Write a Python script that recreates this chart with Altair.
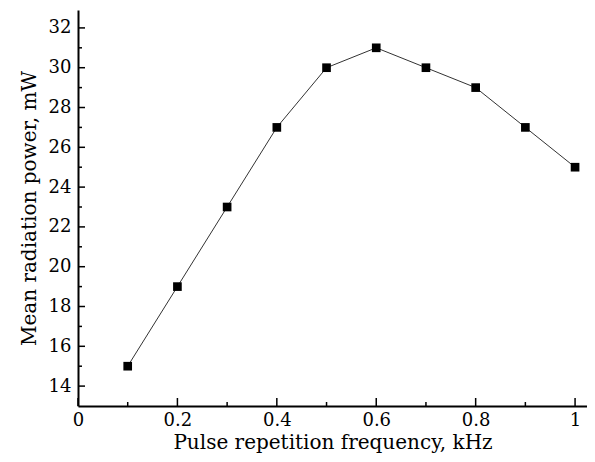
import altair as alt
import pandas as pd

freq = [0.1, 0.2, 0.3, 0.4, 0.5, 0.6, 0.7, 0.8, 0.9, 1.0]
power = [15, 19, 23, 27, 30, 31, 30, 29, 27, 25]

x_major = [0, 0.2, 0.4, 0.6, 0.8, 1.0]
x_minor = [0.1, 0.3, 0.5, 0.7, 0.9]
y_major = [14, 16, 18, 20, 22, 24, 26, 28, 30, 32]
y_minor = [15, 17, 19, 21, 23, 25, 27, 29, 31]

W, H = 509, 396
FONT = "DejaVu Serif"

df = pd.DataFrame({"f": freq, "p": power})
xs = alt.Scale(domain=[0, 1.024], nice=False, zero=False)
ys = alt.Scale(domain=[13, 32.9], nice=False, zero=False)

xaxis = alt.Axis(values=x_major, ticks=False, grid=False, labelPadding=5, labelFlush=False,
                 labelExpr="datum.value == 0 ? '0' : format(datum.value, '.1~f')",
                 title="Pulse repetition frequency, kHz", titlePadding=3,
                 domainWidth=2, domainColor="black")
yaxis = alt.Axis(values=y_major, ticks=False, grid=False, labelPadding=7, labelFlush=False,
                 title="Mean radiation power, mW", titlePadding=9,
                 domainWidth=2, domainColor="black")

base = alt.Chart(df)
line = base.mark_line(color="#333333", strokeWidth=1).encode(
    x=alt.X("f:Q", scale=xs, axis=xaxis),
    y=alt.Y("p:Q", scale=ys, axis=yaxis),
)
pts = base.mark_square(size=75, color="black", opacity=1).encode(
    x=alt.X("f:Q", scale=xs), y=alt.Y("p:Q", scale=ys)
)

def yticks(vals, length):
    return alt.Chart(pd.DataFrame({"v": vals})).mark_rule(color="black", strokeWidth=1.5).encode(
        y=alt.Y("v:Q", scale=ys), x=alt.value(0), x2=alt.value(length))

def xticks(vals, length):
    return alt.Chart(pd.DataFrame({"v": vals})).mark_rule(color="black", strokeWidth=1.5).encode(
        x=alt.X("v:Q", scale=xs), y=alt.value(H), y2=alt.value(H - length))

chart = alt.layer(
    line, pts,
    yticks(y_major, 7), yticks(y_minor, 4),
    xticks(x_major, 8), xticks(x_minor, 4),
).properties(
    width=W, height=H,
    autosize=alt.AutoSizeParams(type="none"),
    padding={"left": 70, "top": 2, "right": 0, "bottom": 48},
).configure_view(stroke=None).configure_axis(
    labelFont=FONT, labelFontSize=18, labelColor="black",
    titleFont=FONT, titleFontSize=20, titleColor="black", titleFontWeight="normal",
)

chart.save("out.html", embed_options={"renderer": "svg", "actions": False})
